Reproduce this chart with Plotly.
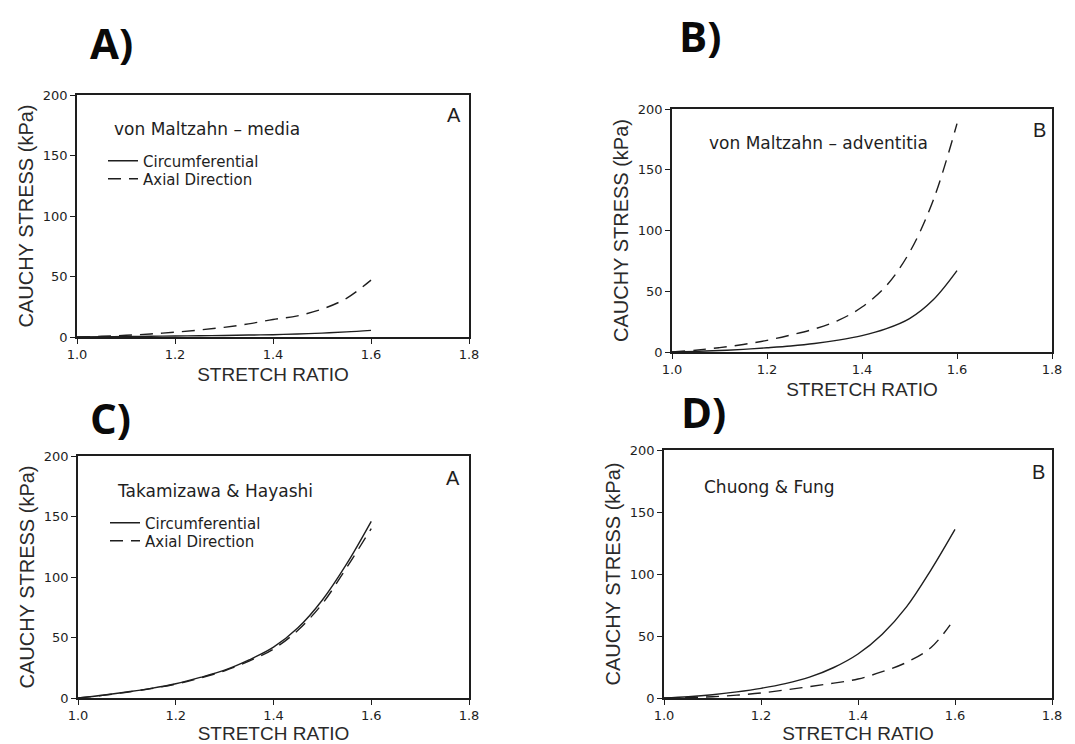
import plotly.graph_objects as go

# ---- data ----
stretch = [1.0, 1.05, 1.1, 1.15, 1.2, 1.25, 1.3, 1.35, 1.4, 1.45, 1.5, 1.55, 1.6]
stretch_d_axial = [1.0, 1.05, 1.1, 1.15, 1.2, 1.25, 1.3, 1.35, 1.4, 1.45, 1.5, 1.55, 1.59]

a_circ = [0, 0.2, 0.4, 0.6, 0.8, 1.0, 1.3, 1.6, 1.9, 2.5, 3.2, 4.2, 5.5]
a_axial = [0, 0.6, 1.4, 2.5, 4.0, 5.8, 8.0, 10.8, 14.5, 17.5, 23, 32, 47]

b_circ = [0, 0.5, 1.2, 2.2, 3.5, 5.0, 7.0, 9.8, 13.5, 19, 27.5, 43, 67]
b_axial = [0, 1.5, 3.6, 6.2, 9.6, 14, 19, 26, 37, 54, 82, 125, 188]

c_circ = [0, 2.3, 5, 8, 11.8, 17, 23, 31.5, 42, 58, 81, 111, 146]
c_axial = [0, 2.2, 4.8, 7.8, 11.5, 16.5, 22.5, 30.5, 40.5, 56, 78, 108, 140]

d_circ = [0, 1.0, 2.6, 4.9, 7.8, 11.6, 16.8, 24.6, 35.5, 51.5, 73.5, 103, 136]
d_axial = [0, 0.4, 1.0, 2.3, 4, 6.5, 9.2, 12, 15.3, 21.2, 28.7, 40.5, 59]

x_ticks = [1.0, 1.2, 1.4, 1.6, 1.8]
y_ticks = [0, 50, 100, 150, 200]

W, H = 1075, 744
INK = "#1e1e1e"
FONT = "Liberation Sans, Arial, sans-serif"
FONT2 = "DejaVu Sans, sans-serif"

# plot areas in pixels: (left, right, top, bottom)
boxes = {
    "1": (77, 469, 95, 337),
    "2": (672, 1052, 109, 352),
    "3": (78, 469, 456, 698),
    "4": (664, 1052, 450, 698),
}

fig = go.Figure()

def add_pair(n, xs_c, yc, xs_a, ya, legends=None):
    xa = "x" if n == "1" else "x" + n
    ya_ = "y" if n == "1" else "y" + n
    show = legends is not None
    lc, la = legends if show else ("legend", "legend")
    fig.add_trace(go.Scatter(
        x=xs_c, y=yc, mode="lines", name="Circumferential",
        line=dict(color=INK, width=1.4, shape="spline", smoothing=1.0),
        xaxis=xa, yaxis=ya_, showlegend=show, legend=lc))
    fig.add_trace(go.Scatter(
        x=xs_a, y=ya, mode="lines", name="Axial Direction",
        line=dict(color=INK, width=1.4, dash="13px,8px", shape="spline", smoothing=1.0),
        xaxis=xa, yaxis=ya_, showlegend=show, legend=la))

add_pair("1", stretch, a_circ, stretch, a_axial, legends=("legend", "legend2"))
add_pair("2", stretch, b_circ, stretch, b_axial)
add_pair("3", stretch, c_circ, stretch, c_axial, legends=("legend3", "legend4"))
add_pair("4", stretch, d_circ, stretch_d_axial, d_axial)

layout = dict(
    width=W, height=H,
    margin=dict(l=0, r=0, t=0, b=0, autoexpand=False),
    paper_bgcolor="white", plot_bgcolor="white",
    font=dict(family=FONT, color=INK),
)

for n, (l, r, t, b) in boxes.items():
    xk = "xaxis" if n == "1" else "xaxis" + n
    yk = "yaxis" if n == "1" else "yaxis" + n
    xref = "x" if n == "1" else "x" + n
    yref = "y" if n == "1" else "y" + n
    layout[xk] = dict(
        domain=[l / W, r / W], anchor=yref, range=[1.0, 1.8], automargin=False,
        tickvals=x_ticks, ticktext=[f"{v:.1f}" for v in x_ticks],
        ticks="outside", ticklen=5, tickwidth=1.3, tickcolor=INK,
        showline=True, linecolor=INK, linewidth=1.6, mirror=True,
        showgrid=False, zeroline=False,
        tickfont=dict(size=13, family=FONT2, color=INK),
        title=dict(text="STRETCH RATIO", font=dict(size=19, family=FONT, color="#2a2a2a"), standoff=6),
    )
    layout[yk] = dict(
        domain=[1 - b / H, 1 - t / H], anchor=xref, range=[0, 200], automargin=False,
        tickvals=y_ticks,
        ticks="outside", ticklen=5, tickwidth=1.3, tickcolor=INK,
        showline=True, linecolor=INK, linewidth=1.6, mirror=True,
        showgrid=False, zeroline=False,
        tickfont=dict(size=13, family=FONT2, color=INK),
        title=dict(text="CAUCHY STRESS (kPa)", font=dict(size=20, family=FONT, color="#2a2a2a"), standoff=4),
    )

legend_common = dict(
    bgcolor="rgba(0,0,0,0)", borderwidth=0, itemwidth=30,
    font=dict(size=15, family=FONT2, color=INK),
    xanchor="left", yanchor="middle",
)
layout["legend"] = dict(legend_common, x=103 / W, y=1 - 161 / H)
layout["legend2"] = dict(legend_common, x=103 / W, y=1 - 179 / H)
layout["legend3"] = dict(legend_common, x=105 / W, y=1 - 523 / H)
layout["legend4"] = dict(legend_common, x=105 / W, y=1 - 541 / H)

annotations = []
# panel tags
for txt, x, y in [("A)", 111, 43), ("B)", 700, 36), ("C)", 110, 418), ("D)", 703, 412)]:
    annotations.append(dict(text=f"<b>{txt}</b>", x=x / W, y=1 - y / H, xref="paper", yref="paper",
                            showarrow=False, xanchor="center", yanchor="middle",
                            font=dict(size=42, family="Open Sans, sans-serif", color="#0a0a0a")))
# inner titles
for txt, x, y in [("von Maltzahn – media", 112, 129), ("von Maltzahn – adventitia", 707, 143),
                  ("Takamizawa & Hayashi", 115, 491), ("Chuong & Fung", 702, 487)]:
    annotations.append(dict(text=txt, x=x / W, y=1 - y / H, xref="paper", yref="paper",
                            showarrow=False, xanchor="left", yanchor="middle",
                            font=dict(size=17, family=FONT2, color=INK)))
# corner letters
for txt, x, y in [("A", 454, 115), ("B", 1039, 130), ("A", 453, 478), ("B", 1038, 472)]:
    annotations.append(dict(text=txt, x=x / W, y=1 - y / H, xref="paper", yref="paper",
                            showarrow=False, xanchor="center", yanchor="middle",
                            font=dict(size=20, family=FONT, color=INK)))
layout["annotations"] = annotations

fig.update_layout(**layout)
fig.write_html("out.html")
